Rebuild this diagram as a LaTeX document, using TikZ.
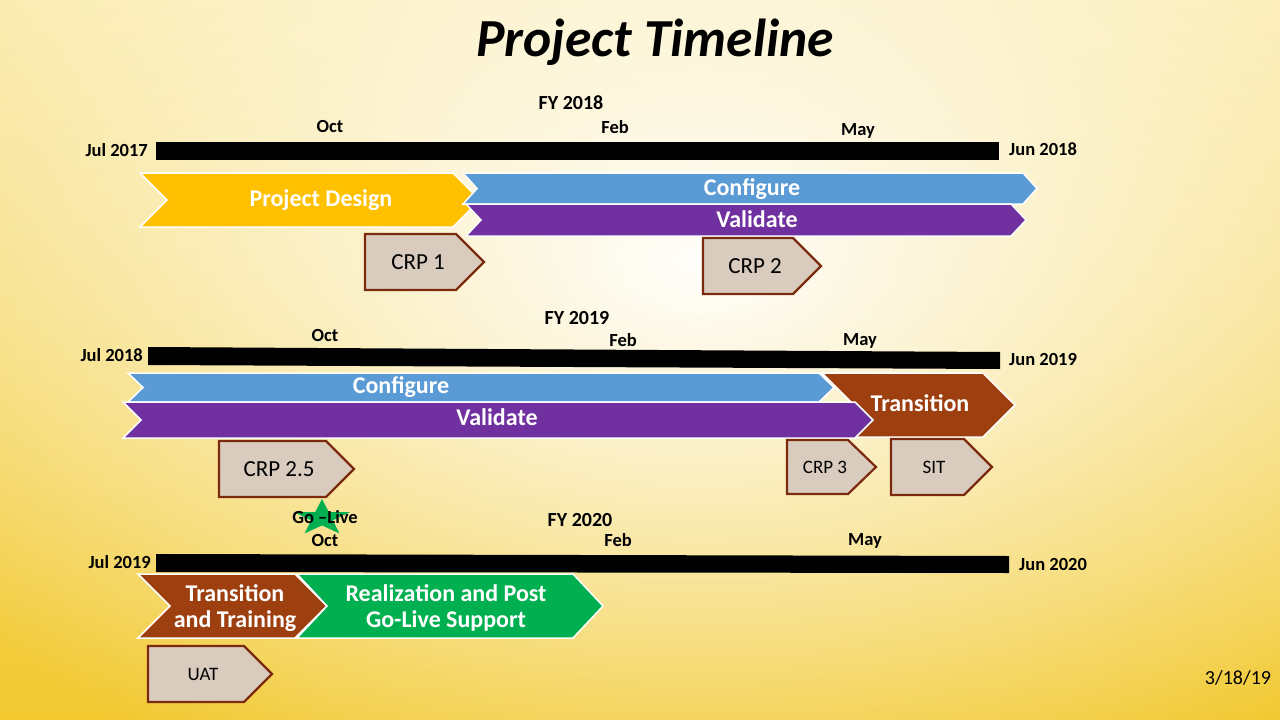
\documentclass[tikz,border=0pt]{standalone}
\usepackage{fontspec}
\setmainfont{Carlito}
\usetikzlibrary{fadings}
\definecolor{bgtop}{HTML}{FAEAA8}
\definecolor{bgbot}{HTML}{F2C930}
\definecolor{pdyellow}{HTML}{FFC000}
\definecolor{cfgblue}{HTML}{5B9BD5}
\definecolor{valpurple}{HTML}{7030A0}
\definecolor{trbrown}{HTML}{9E3F0F}
\definecolor{golgreen}{HTML}{00B050}
\definecolor{crpfill}{HTML}{D9CCBE}
\definecolor{crpline}{HTML}{7B2A0E}
\tikzfading[name=bgglow, inner color=transparent!0, outer color=transparent!100]
\newcommand\chevron[6]{%
  \draw[chevbox, fill=#6] (#1,#3) -- ({#2-#5},#3) -- (#2,{(#3+#4)/2}) -- ({#2-#5},#4) -- (#1,#4) -- ({#1+#5},{(#3+#4)/2}) -- cycle;}
\newcommand\crpshape[4]{%
  \draw[crpbox] (#1,#3) -- ({#2-28},#3) -- (#2,{(#3+#4)/2}) -- ({#2-28},#4) -- (#1,#4) -- cycle;}
\begin{document}
\begin{tikzpicture}[x=1pt,y=-1pt,
  chevbox/.style={draw=white, line width=1.5pt, line join=miter},
  crpbox/.style={fill=crpfill, draw=crpline, line width=2.2pt, line join=miter},
  monlbl/.style={font=\bfseries\fontsize{18.5}{22}\selectfont, inner sep=0pt, text height=11.9pt, text depth=0pt},
  fylbl/.style={font=\bfseries\fontsize{20}{24}\selectfont, inner sep=0pt, text height=12.9pt, text depth=0pt},
  chevtxt/.style={text=white, font=\bfseries\fontsize{24}{26}\selectfont, inner sep=0pt, text height=15.5pt, text depth=0pt},
  chevtwo/.style={text=white, font=\bfseries\fontsize{24}{26}\selectfont, inner sep=0pt, align=center},
  crptxt/.style={font=\fontsize{23}{26}\selectfont, inner sep=0pt, text height=14.8pt, text depth=0pt},
  smalltxt/.style={font=\fontsize{19}{22}\selectfont, inner sep=0pt, text height=12.2pt, text depth=0pt},
  barfill/.style={fill=black}]
\useasboundingbox (0,0) rectangle (1280,720);
% background
\shade[shading angle=-30, top color=bgtop, bottom color=bgbot] (0,0) rectangle (1280,720);
\begin{scope}
\clip (0,0) rectangle (1280,720);
\fill[white, path fading=bgglow, fill opacity=0.97] (700,260) ellipse [x radius=900, y radius=600];
\end{scope}
% title
\node[font=\bfseries\itshape\fontsize{53.5}{60}\selectfont, inner sep=0pt, text height=34.5pt, text depth=0pt] (title) at (655,39) {Project Timeline};
% ---------- FY 2018 ----------
\node[fylbl] (fy18) at (571,103) {FY 2018};
\node[monlbl] (oct18) at (330,127) {Oct};
\node[monlbl] (feb18) at (615,128) {Feb};
\node[monlbl] (may18) at (858,130) {May};
\fill[barfill] (156,142) -- (999,142) -- (999,160) -- (156,160) -- cycle;
\node[monlbl, anchor=east] (jul17) at (148,151) {Jul 2017};
\node[monlbl, anchor=west] (jun18) at (1009,150) {Jun 2018};
\chevron{140}{480}{173}{227}{27}{pdyellow}
\chevron{463}{1037}{173}{204}{14}{cfgblue}
\chevron{466}{1026}{204}{236}{15}{valpurple}
\node[chevtxt] (pd) at (321,199) {Project Design};
\node[chevtxt] (cfg1) at (752,188) {Configure};
\node[chevtxt] (val1) at (757,220) {Validate};
\crpshape{365}{484}{234}{290}
\node[crptxt] (crp1) at (418,262) {CRP 1};
\crpshape{703}{821}{238}{294}
\node[crptxt] (crp2) at (755,266) {CRP 2};
% ---------- FY 2019 ----------
\node[fylbl] (fy19) at (577,318) {FY 2019};
\node[monlbl] (oct19) at (325,336) {Oct};
\node[monlbl] (feb19) at (623,341) {Feb};
\node[monlbl] (may19) at (860,340) {May};
\fill[barfill] (148,347) -- (1000,352) -- (1000,369) -- (148,365) -- cycle;
\node[monlbl, anchor=east] (jul18) at (143,356) {Jul 2018};
\node[monlbl, anchor=west] (jun19) at (1009,360) {Jun 2019};
\chevron{822}{1015}{373}{437}{32}{trbrown}
\chevron{128}{834}{373}{402}{15}{cfgblue}
\chevron{123}{873}{402}{438}{18}{valpurple}
\node[chevtxt] (cfg2) at (401,386) {Configure};
\node[chevtxt] (val2) at (497,418) {Validate};
\node[chevtxt] (trans) at (920,404) {Transition};
\crpshape{219}{354}{441}{497}
\node[crptxt] (crp25) at (279,469) {CRP 2.5};
\crpshape{787}{876}{440}{494}
\node[smalltxt] (crp3) at (825,467) {CRP 3};
\crpshape{891}{992}{439}{495}
\node[smalltxt] (sit) at (934,467) {SIT};
% ---------- FY 2020 ----------
\begin{scope}[shift={(322,518)}, xscale=1.55, yscale=-1]
\fill[golgreen] (90:19) -- (126:7.4) -- (162:19) -- (198:7.4) -- (234:19) -- (270:7.4) -- (306:19) -- (342:7.4) -- (18:19) -- (54:7.4) -- cycle;
\end{scope}
\node[monlbl] (golive) at (325,518) {Go –Live};
\node[fylbl] (fy20) at (580,520) {FY 2020};
\node[monlbl] (oct20) at (325,541) {Oct};
\node[monlbl] (feb20) at (618,541) {Feb};
\node[monlbl] (may20) at (865,540) {May};
\fill[barfill] (156,554) -- (1009,556) -- (1009,573) -- (156,572) -- cycle;
\node[monlbl, anchor=east] (jul19) at (151,563) {Jul 2019};
\node[monlbl, anchor=west] (jun20) at (1019,565) {Jun 2020};
\chevron{138}{327}{574}{638}{32}{trbrown}
\chevron{297}{603}{574}{638}{30}{golgreen}
\node[chevtwo] (tt) at (235,608) {Transition\\and Training};
\node[chevtwo] (real) at (446,608) {Realization and Post\\Go-Live Support};
\crpshape{148}{272}{646}{702}
\node[smalltxt] (uat) at (203,674) {UAT};
% date
\node[font=\fontsize{20}{24}\selectfont, inner sep=0pt, text height=12.9pt, text depth=0pt] (date) at (1238,678) {3/18/19};
\end{tikzpicture}
\end{document}
